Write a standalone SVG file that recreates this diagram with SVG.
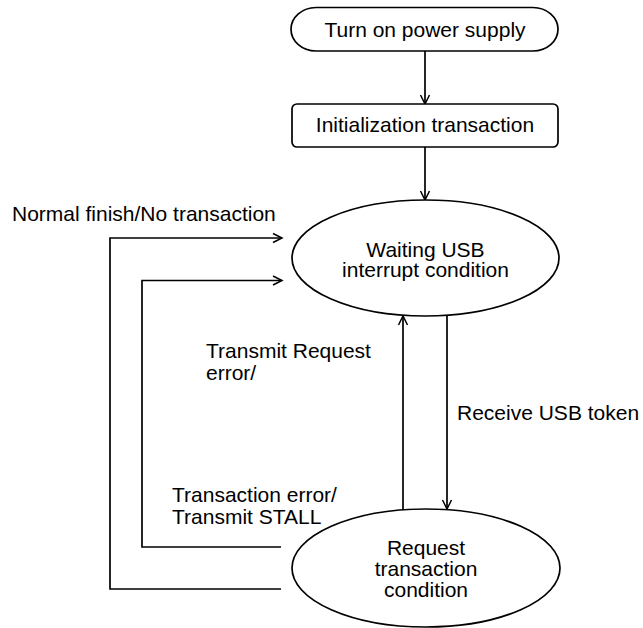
<svg xmlns="http://www.w3.org/2000/svg" width="643" height="628" viewBox="0 0 643 628">
<style>
.s{fill:#fff;stroke:#000;stroke-width:1.7}
.t{font-family:"Liberation Sans",Arial,sans-serif;font-size:21px;fill:#000}
.m{text-anchor:middle}
.c{fill:none;stroke:#000;stroke-width:1.7}
</style>
<defs>
<marker id="a" markerWidth="12" markerHeight="12" refX="10" refY="6" orient="auto" markerUnits="userSpaceOnUse">
<path d="M1,1.5 L10,6 L1,10.5" fill="none" stroke="#000" stroke-width="1.5"/>
</marker>
</defs>
<rect width="643" height="628" fill="#fff"/>
<g id="connectors">
<line class="c" x1="425" y1="51" x2="425" y2="104" marker-end="url(#a)"/>
<line class="c" x1="425" y1="147" x2="425" y2="200" marker-end="url(#a)"/>
<line class="c" x1="447" y1="316" x2="447" y2="509" marker-end="url(#a)"/>
<line class="c" x1="403" y1="509" x2="403" y2="316" marker-end="url(#a)"/>
<polyline class="c" points="281,589 110,589 110,238 282,238" marker-end="url(#a)"/>
<polyline class="c" points="281,547 142,547 142,280.5 282,280.5" marker-end="url(#a)"/>
</g>
<g id="start">
<path class="s" d="M316,7.5 H533 A25,21.75 0 0 1 533,51 H316 A25,21.75 0 0 1 316,7.5 Z"/>
<text class="t m" x="425" y="37">Turn on power supply</text>
</g>
<g id="init">
<rect class="s" x="292" y="104" width="266" height="43" rx="5"/>
<text class="t m" x="425" y="132">Initialization transaction</text>
</g>
<g id="waiting">
<ellipse class="s" cx="425.5" cy="258" rx="133.5" ry="58"/>
<text class="t m" x="425.5" y="256.5">Waiting USB</text>
<text class="t m" x="425.5" y="277">interrupt condition</text>
</g>
<g id="request">
<ellipse class="s" cx="426" cy="568" rx="134" ry="59"/>
<text class="t m" x="426" y="555">Request</text>
<text class="t m" x="426" y="576">transaction</text>
<text class="t m" x="426" y="597">condition</text>
</g>
<g id="labels">
<text class="t" x="12" y="221">Normal finish/No transaction</text>
<text class="t" x="206" y="358">Transmit Request</text>
<text class="t" x="206" y="380">error/</text>
<text class="t" x="457" y="420">Receive USB token</text>
<text class="t" x="172" y="502">Transaction error/</text>
<text class="t" x="172" y="524">Transmit STALL</text>
</g>
</svg>
